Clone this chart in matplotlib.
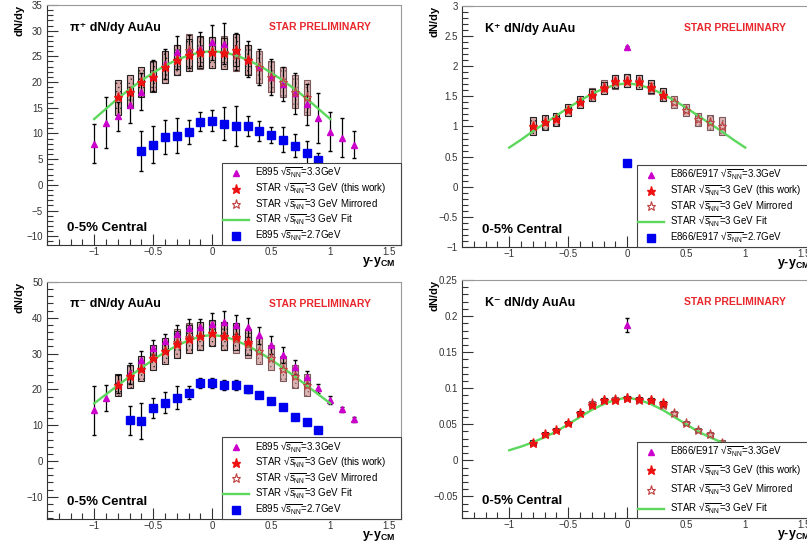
import matplotlib
matplotlib.use('Agg')
import matplotlib.pyplot as plt
from matplotlib.lines import Line2D
from matplotlib.ticker import MultipleLocator, FuncFormatter

plt.rcParams['font.family'] = ['Liberation Sans', 'DejaVu Sans']
plt.rcParams['mathtext.fontset'] = 'custom'
plt.rcParams['mathtext.rm'] = 'Liberation Sans'
plt.rcParams['mathtext.it'] = 'Liberation Sans:italic'
plt.rcParams['mathtext.bf'] = 'Liberation Sans:bold'
plt.rcParams['hatch.linewidth'] = 0.4

# ---- data ----
x_star = [-0.8, -0.7, -0.6, -0.5, -0.4, -0.3, -0.2, -0.1, 0.0, 0.1, 0.2, 0.3]
x_fit = [-1.0, -0.9, -0.8, -0.7, -0.6, -0.5, -0.4, -0.3, -0.2, -0.1, 0.0,
         0.1, 0.2, 0.3, 0.4, 0.5, 0.6, 0.7, 0.8, 0.9, 1.0]

# pi+
pip_star = [17.0, 18.1, 20.0, 21.0, 22.9, 24.3, 25.3, 25.9, 25.8, 25.6, 26.3, 24.3]
pip_sys = [3.4, 3.2, 3.0, 3.0, 3.1, 3.0, 3.1, 3.1, 3.0, 3.0, 3.1, 3.0]
pip_fit = [12.8, 14.8, 16.8, 18.6, 20.3, 21.8, 23.2, 24.3, 25.2, 25.8, 26.0,
           25.8, 25.2, 24.3, 23.2, 21.8, 20.3, 18.6, 16.8, 14.8, 12.8]
pip_e33_x = [-1.0, -0.9, -0.8, -0.7, -0.6, -0.5, -0.4, -0.3, -0.2, -0.1, 0.0, 0.1,
             0.2, 0.3, 0.4, 0.5, 0.6, 0.7, 0.8, 0.9, 1.0, 1.1, 1.2]
pip_e33_y = [8.0, 12.1, 13.3, 15.5, 18.1, 21.2, 23.5, 25.8, 26.0, 26.5, 27.7, 27.5,
             26.0, 24.5, 23.0, 21.0, 19.6, 17.8, 15.7, 13.0, 10.3, 9.2, 7.8]
pip_e33_e = [3.8, 4.9, 2.8, 3.5, 3.6, 3.0, 3.0, 3.2, 3.2, 3.3, 3.4, 3.9,
             3.6, 3.5, 3.5, 3.5, 3.3, 4.0, 4.0, 4.9, 3.8, 3.8, 2.6]
pip_e27_x = [-0.6, -0.5, -0.4, -0.3, -0.2, -0.1, 0.0, 0.1, 0.2, 0.3, 0.4, 0.5,
             0.6, 0.7, 0.8, 0.9]
pip_e27_y = [6.5, 7.8, 9.3, 9.6, 10.3, 12.3, 12.5, 11.9, 11.4, 11.4, 10.5, 9.7,
             8.8, 7.6, 6.1, 4.8]
pip_e27_e = [3.9, 3.6, 3.3, 3.5, 2.4, 1.8, 2.1, 3.2, 3.9, 1.9, 2.0, 1.5,
             2.4, 2.2, 2.5, 1.3]

# K+
kp_star = [1.01, 1.07, 1.12, 1.28, 1.40, 1.52, 1.64, 1.75, 1.76, 1.74, 1.66, 1.53]
kp_sys = [0.15, 0.12, 0.11, 0.10, 0.10, 0.10, 0.10, 0.11, 0.11, 0.11, 0.11, 0.11]
kp_fit = [0.65, 0.78, 0.92, 1.05, 1.18, 1.31, 1.43, 1.54, 1.63, 1.69, 1.72,
          1.69, 1.63, 1.54, 1.43, 1.31, 1.18, 1.05, 0.92, 0.78, 0.65]
kp_e33_x = [0.0]
kp_e33_y = [2.32]
kp_e33_e = [0.02]
kp_e27_x = [0.0]
kp_e27_y = [0.39]
kp_e27_e = [0.01]

# pi-
pim_star = [21.2, 23.7, 25.8, 28.9, 30.7, 32.6, 34.2, 34.9, 35.8, 34.9, 34.7, 33.3]
pim_sys = [3.0, 3.2, 3.4, 3.6, 3.6, 3.8, 3.9, 3.9, 3.6, 3.8, 3.8, 3.6]
pim_fit = [16.1, 18.6, 21.1, 23.6, 26.0, 28.3, 30.4, 32.2, 33.7, 34.8, 35.2,
           34.8, 33.7, 32.2, 30.4, 28.3, 26.0, 23.6, 21.1, 18.6, 16.1]
pim_e33_x = pip_e33_x
pim_e33_y = [14.2, 17.5, 21.5, 24.5, 28.3, 31.7, 33.4, 35.6, 37.1, 37.3, 38.4, 38.8,
             38.1, 37.3, 35.1, 32.3, 29.6, 26.3, 23.5, 20.3, 17.0, 14.4, 11.6]
pim_e33_e = [6.8, 3.6, 2.5, 3.0, 2.5, 2.0, 2.0, 2.5, 2.5, 2.5, 3.0, 3.0,
             2.7, 2.7, 2.3, 2.5, 2.3, 2.0, 1.7, 1.2, 1.2, 0.8, 0.8]
pim_e27_x = [-0.7, -0.6, -0.5, -0.4, -0.3, -0.2, -0.1, 0.0, 0.1, 0.2, 0.3, 0.4,
             0.5, 0.6, 0.7, 0.8, 0.9]
pim_e27_y = [11.4, 11.2, 14.7, 16.3, 17.7, 19.1, 21.7, 21.8, 21.2, 21.2, 20.0, 18.4,
             16.8, 15.0, 12.4, 10.8, 8.6]
pim_e27_e = [4.0, 5.0, 2.8, 3.0, 3.3, 1.8, 1.4, 1.5, 1.4, 1.5, 1.0, 0.9,
             0.8, 0.7, 0.6, 0.6, 0.5]

# K-
km_star = [0.0245, 0.036, 0.0417, 0.052, 0.065, 0.077, 0.083, 0.084, 0.0866, 0.085, 0.084, 0.079]
km_sys = [0.003] * 12
km_fit = [0.014, 0.019, 0.025, 0.032, 0.040, 0.050, 0.060, 0.070, 0.078, 0.084, 0.087,
          0.084, 0.078, 0.070, 0.060, 0.050, 0.040, 0.032, 0.025, 0.019, 0.014]
km_e33_x = [0.0]
km_e33_y = [0.188]
km_e33_e = [0.01]

SQ = '\u221a$\\overline{s_{\\rm NN}}$'
lbl_e895 = ['E895 ' + SQ + '=3.3GeV', 'E895 ' + SQ + '=2.7GeV']
lbl_e866 = ['E866/E917 ' + SQ + '=3.3GeV', 'E866/E917 ' + SQ + '=2.7GeV']
lbl_star = ['STAR ' + SQ + '=3 GeV (this work)',
            'STAR ' + SQ + '=3 GeV Mirrored',
            'STAR ' + SQ + '=3 GeV Fit']

MAG = '#cc00cc'
RED = '#ee1111'
GRN = '#5cd85c'
BLU = '#0000ee'


def fmt(v, pos):
    return ('%g' % round(v, 4)).replace('-', '\u2212')


def panel(ax, title, ylim, ymaj, ymin, star, sys, fit, tri, sq, labels, spacing):
    x_mir = [-v for v in x_star]
    lo = [v - s for v, s in zip(star, sys)]
    hi = [2 * s for s in sys]
    ax.bar(x_mir, hi, bottom=lo, width=0.05, color='#dcb2b2', edgecolor='#7a5a5a',
           hatch='....', lw=0.8, zorder=2)
    ax.bar(x_star, hi, bottom=lo, width=0.05, color='#d8a8a8', edgecolor='#222222',
           hatch='....', lw=0.8, zorder=2.1)
    ax.errorbar(tri[0], tri[1], yerr=tri[2], fmt='^', color=MAG, ecolor='black',
                elinewidth=0.9, capsize=1.6, ms=5, zorder=3)
    if sq is not None:
        ax.errorbar(sq[0], sq[1], yerr=sq[2], fmt='s', color=BLU, ecolor='black',
                    elinewidth=0.9, capsize=1.6, ms=6, zorder=3)
    ax.plot(x_fit, fit, color=GRN, lw=1.7, zorder=4)
    ax.plot(x_mir, star, '*', mfc='none', mec='#c04040', mew=0.8, ms=6.5, zorder=5)
    ax.plot(x_star, star, '*', color=RED, ms=6.5, zorder=5.1)

    ax.set_xlim(-1.4, 1.6)
    ax.set_ylim(*ylim)
    ax.xaxis.set_major_locator(MultipleLocator(0.5))
    ax.xaxis.set_minor_locator(MultipleLocator(0.1))
    ax.yaxis.set_major_locator(MultipleLocator(ymaj))
    ax.yaxis.set_minor_locator(MultipleLocator(ymin))
    ax.xaxis.set_major_formatter(FuncFormatter(fmt))
    ax.yaxis.set_major_formatter(FuncFormatter(fmt))
    ax.tick_params(which='both', direction='in', top=False, right=False,
                   labelsize=7, colors='#333333', width=0.8)
    ax.tick_params(which='major', length=8)
    ax.tick_params(which='minor', length=4)
    ax.tick_params(axis='x', pad=1.5)
    ax.tick_params(axis='y', pad=3)
    for s in ['left', 'bottom']:
        ax.spines[s].set_color('#333333')
    for s in ['top', 'right']:
        ax.spines[s].set_color('#999999')

    ax.text(0.065, 0.905, title, transform=ax.transAxes, fontsize=9, fontweight='bold',
            va='center', ha='left')
    ax.text(0.771, 0.908, 'STAR PRELIMINARY', transform=ax.transAxes, fontsize=7.5,
            fontweight='bold', color='#e8262b', va='center', ha='center')
    ax.text(0.056, 0.072, '0-5% Central', transform=ax.transAxes, fontsize=9.5,
            fontweight='bold', va='center', ha='left')
    ax.text(-0.078, 1.0, 'dN/dy', transform=ax.transAxes, fontsize=8, fontweight='bold',
            rotation=90, va='top', ha='center')
    ax.text(0.985, -0.07, r'y-y$_{\mathbf{CM}}$', transform=ax.transAxes, fontsize=9,
            fontweight='bold', va='center', ha='right')

    handles = [Line2D([], [], marker='^', color=MAG, ls='none', ms=5),
               Line2D([], [], marker='*', color=RED, ls='none', ms=6.5),
               Line2D([], [], marker='*', mfc='none', mec='#c04040', mew=0.8, ls='none', ms=6.5),
               Line2D([], [], color=GRN, lw=1.7)]
    if sq is not None:
        handles.append(Line2D([], [], marker='s', color=BLU, ls='none', ms=5.5))
    leg = ax.legend(handles, labels, loc='lower left', mode='expand',
                    bbox_to_anchor=(0.493, 0.0, 0.507, 0.3), borderaxespad=0,
                    fontsize=7.0, labelspacing=spacing, handlelength=2.6, handletextpad=0.6,
                    borderpad=0.2, fancybox=False, framealpha=1, edgecolor='#444444')
    leg.get_frame().set_linewidth(0.8)
    leg.set_zorder(10)


fig = plt.figure(figsize=(8.07, 5.45), dpi=100)
ax1 = fig.add_axes([0.0582, 0.5505, 0.4387, 0.4404])
ax2 = fig.add_axes([0.5725, 0.5468, 0.4387, 0.4422])
ax3 = fig.add_axes([0.0582, 0.0477, 0.4387, 0.4349])
ax4 = fig.add_axes([0.5725, 0.0495, 0.4387, 0.4367])

panel(ax1, '\u03c0\u207a dN/dy AuAu', (-11.7, 35), 5, 1, pip_star, pip_sys, pip_fit,
      (pip_e33_x, pip_e33_y, pip_e33_e), (pip_e27_x, pip_e27_y, pip_e27_e),
      [lbl_e895[0]] + lbl_star + [lbl_e895[1]], 0.05)
panel(ax2, 'K\u207a dN/dy AuAu', (-1, 3), 0.5, 0.1, kp_star, kp_sys, kp_fit,
      (kp_e33_x, kp_e33_y, kp_e33_e), (kp_e27_x, kp_e27_y, kp_e27_e),
      [lbl_e866[0]] + lbl_star + [lbl_e866[1]], 0.05)
panel(ax3, '\u03c0\u207b dN/dy AuAu', (-16.2, 50), 10, 2, pim_star, pim_sys, pim_fit,
      (pim_e33_x, pim_e33_y, pim_e33_e), (pim_e27_x, pim_e27_y, pim_e27_e),
      [lbl_e895[0]] + lbl_star + [lbl_e895[1]], 0.05)
panel(ax4, 'K\u207b dN/dy AuAu', (-0.08, 0.25), 0.05, 0.01, km_star, km_sys, km_fit,
      (km_e33_x, km_e33_y, km_e33_e), None,
      [lbl_e866[0]] + lbl_star, 0.4)

fig.savefig('out.png', dpi=100, facecolor='white')
